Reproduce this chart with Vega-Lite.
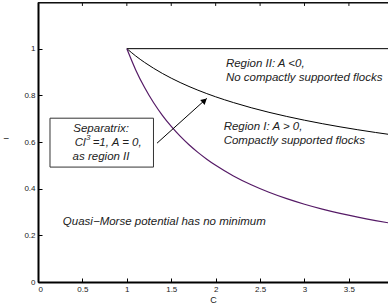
{
  "$schema": "https://vega.github.io/schema/vega-lite/v6.json",
  "autosize": "none",
  "width": 350,
  "height": 280,
  "padding": {"left": 38, "top": 2, "right": 0, "bottom": 23},
  "background": "white",
  "config": {
    "view": {"stroke": "black", "strokeWidth": 1},
    "font": "Liberation Sans",
    "text": {"font": "Liberation Sans"}
  },
  "datasets": {
    "flat": [{"C": 1, "l": 1}, {"C": 4, "l": 1}],
    "border": [{"a": 0, "b": 3.94, "v": 1.197}, {"a": 0, "b": 3.94, "v": 1.196}],
    "marks": [
      {"p": 0.5, "q": 1.2, "r": 1.183},
      {"p": 1.0, "q": 1.2, "r": 1.183},
      {"p": 1.5, "q": 1.2, "r": 1.183},
      {"p": 2.0, "q": 1.2, "r": 1.183},
      {"p": 2.5, "q": 1.2, "r": 1.183},
      {"p": 3.0, "q": 1.2, "r": 1.183},
      {"p": 3.5, "q": 1.2, "r": 1.183}
    ],
    "curves": [
      {"C": 1.0, "sep": 1.0, "low": 1.0},
      {"C": 1.1, "sep": 0.9687, "low": 0.9091},
      {"C": 1.2, "sep": 0.941, "low": 0.8333},
      {"C": 1.3, "sep": 0.9163, "low": 0.7692},
      {"C": 1.4, "sep": 0.8939, "low": 0.7143},
      {"C": 1.5, "sep": 0.8736, "low": 0.6667},
      {"C": 1.6, "sep": 0.855, "low": 0.625},
      {"C": 1.7, "sep": 0.8379, "low": 0.5882},
      {"C": 1.8, "sep": 0.8221, "low": 0.5556},
      {"C": 1.9, "sep": 0.8074, "low": 0.5263},
      {"C": 2.0, "sep": 0.7937, "low": 0.5},
      {"C": 2.2, "sep": 0.769, "low": 0.4545},
      {"C": 2.4, "sep": 0.7469, "low": 0.4167},
      {"C": 2.6, "sep": 0.7272, "low": 0.3846},
      {"C": 2.8, "sep": 0.7095, "low": 0.3571},
      {"C": 3.0, "sep": 0.6934, "low": 0.3333},
      {"C": 3.2, "sep": 0.6786, "low": 0.3125},
      {"C": 3.4, "sep": 0.665, "low": 0.2941},
      {"C": 3.6, "sep": 0.6525, "low": 0.2778},
      {"C": 3.8, "sep": 0.6408, "low": 0.2632},
      {"C": 4.0, "sep": 0.63, "low": 0.25}
    ],
    "box": [{"x1": 0.135, "x2": 1.3, "y1": 0.4925, "y2": 0.702}],
    "boxtext": [
      {"x": 0.71, "y": 0.655, "t": "Separatrix:"},
      {"x": 0.71, "y": 0.535, "t": "as region II"}
    ],
    "boxL": [{"x": 0.535, "y": 0.595, "t": "Cl"}],
    "boxS": [{"x": 0.54, "y": 0.617, "t": "3"}],
    "boxR": [{"x": 0.615, "y": 0.595, "t": "=1, A = 0,"}],
    "labels": [
      {"x": 2.115, "y": 0.934, "t": "Region II: A <0,"},
      {"x": 2.115, "y": 0.874, "t": "No compactly supported flocks"},
      {"x": 2.09, "y": 0.664, "t": "Region I:  A > 0,"},
      {"x": 2.09, "y": 0.604, "t": "Compactly supported flocks"},
      {"x": 0.28, "y": 0.257, "t": "Quasi−Morse potential has no minimum"}
    ],
    "arrow": [{"x1": 1.34, "y1": 0.595, "x2": 1.9, "y2": 0.787}],
    "head": [{"x": 1.875, "y": 0.778}]
  },
  "layer": [
    {
      "data": {"name": "flat"},
      "mark": {"type": "line", "color": "black", "strokeWidth": 1, "clip": true},
      "encoding": {
        "x": {
          "field": "C", "type": "quantitative",
          "scale": {"domain": [0, 3.94], "nice": false, "zero": false},
          "axis": {
            "orient": "bottom",
            "values": [0, 0.5, 1, 1.5, 2, 2.5, 3, 3.5],
            "format": "~g",
            "title": "C",
            "titleFontSize": 9, "titleFontWeight": "normal", "titleColor": "#222",
            "titlePadding": 2,
            "labelFontSize": 8, "labelColor": "#222",
            "tickSize": -4, "tickColor": "black", "labelPadding": 7,
            "domainColor": "black", "domainWidth": 2, "grid": false
          }
        },
        "y": {
          "field": "l", "type": "quantitative",
          "scale": {"domain": [0, 1.2], "nice": false, "zero": false},
          "axis": {
            "values": [0, 0.2, 0.4, 0.6, 0.8, 1],
            "format": "~g",
            "title": "−", "titleAngle": 0, "titleX": -32, "titleY": 141,
            "titleFontSize": 10, "titleFontWeight": "normal", "titleColor": "#222",
            "labelFontSize": 8, "labelColor": "#222",
            "tickSize": -4, "tickColor": "black", "labelPadding": 7,
            "domainColor": "black", "domainWidth": 2, "grid": false
          }
        }
      }
    },
    {
      "data": {"name": "border"},
      "mark": {"type": "rule", "color": "#111", "strokeWidth": 1},
      "encoding": {
        "x": {"field": "a", "type": "quantitative"},
        "x2": {"field": "b"},
        "y": {"field": "v", "type": "quantitative"}
      }
    },
    {
      "data": {"name": "marks"},
      "mark": {"type": "rule", "color": "#111", "strokeWidth": 1},
      "encoding": {
        "x": {"field": "p", "type": "quantitative"},
        "y": {"field": "q", "type": "quantitative"},
        "y2": {"field": "r"}
      }
    },
    {
      "data": {"name": "curves"},
      "mark": {"type": "line", "color": "black", "strokeWidth": 1, "clip": true, "interpolate": "monotone"},
      "encoding": {
        "x": {"field": "C", "type": "quantitative"},
        "y": {"field": "sep", "type": "quantitative"}
      }
    },
    {
      "data": {"name": "curves"},
      "mark": {"type": "line", "color": "#551a66", "strokeWidth": 1.2, "clip": true, "interpolate": "monotone"},
      "encoding": {
        "x": {"field": "C", "type": "quantitative"},
        "y": {"field": "low", "type": "quantitative"}
      }
    },
    {
      "data": {"name": "arrow"},
      "mark": {"type": "rule", "color": "black", "strokeWidth": 1},
      "encoding": {
        "x": {"field": "x1", "type": "quantitative"},
        "x2": {"field": "x2"},
        "y": {"field": "y1", "type": "quantitative"},
        "y2": {"field": "y2"}
      }
    },
    {
      "data": {"name": "head"},
      "mark": {"type": "point", "shape": "triangle-up", "filled": true, "color": "black", "size": 45, "angle": 48, "opacity": 1},
      "encoding": {
        "x": {"field": "x", "type": "quantitative"},
        "y": {"field": "y", "type": "quantitative"}
      }
    },
    {
      "data": {"name": "box"},
      "mark": {"type": "rect", "fill": "white", "stroke": "#333", "strokeWidth": 1},
      "encoding": {
        "x": {"field": "x1", "type": "quantitative"},
        "x2": {"field": "x2"},
        "y": {"field": "y1", "type": "quantitative"},
        "y2": {"field": "y2"}
      }
    },
    {
      "data": {"name": "boxtext"},
      "mark": {"type": "text", "align": "center", "baseline": "middle", "fontStyle": "italic", "fontSize": 11.5, "color": "#222"},
      "encoding": {
        "x": {"field": "x", "type": "quantitative"},
        "y": {"field": "y", "type": "quantitative"},
        "text": {"field": "t"}
      }
    },
    {
      "data": {"name": "boxL"},
      "mark": {"type": "text", "align": "right", "baseline": "middle", "fontStyle": "italic", "fontSize": 11.5, "color": "#222"},
      "encoding": {
        "x": {"field": "x", "type": "quantitative"},
        "y": {"field": "y", "type": "quantitative"},
        "text": {"field": "t"}
      }
    },
    {
      "data": {"name": "boxS"},
      "mark": {"type": "text", "align": "left", "baseline": "middle", "fontStyle": "italic", "fontSize": 8, "color": "#222"},
      "encoding": {
        "x": {"field": "x", "type": "quantitative"},
        "y": {"field": "y", "type": "quantitative"},
        "text": {"field": "t"}
      }
    },
    {
      "data": {"name": "boxR"},
      "mark": {"type": "text", "align": "left", "baseline": "middle", "fontStyle": "italic", "fontSize": 11.5, "color": "#222"},
      "encoding": {
        "x": {"field": "x", "type": "quantitative"},
        "y": {"field": "y", "type": "quantitative"},
        "text": {"field": "t"}
      }
    },
    {
      "data": {"name": "labels"},
      "mark": {"type": "text", "align": "left", "baseline": "middle", "fontStyle": "italic", "fontSize": 11.5, "color": "#222"},
      "encoding": {
        "x": {"field": "x", "type": "quantitative"},
        "y": {"field": "y", "type": "quantitative"},
        "text": {"field": "t"}
      }
    }
  ]
}
